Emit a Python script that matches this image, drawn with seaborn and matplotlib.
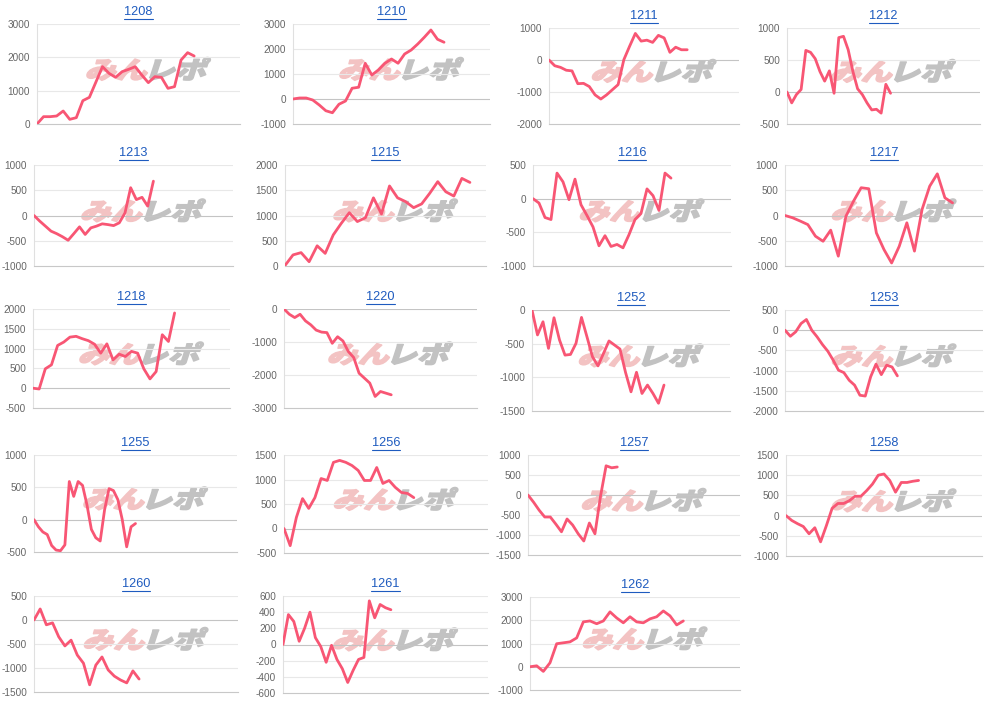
"""Small-multiple line charts, one panel per machine number."""

import matplotlib.pyplot as plt
import seaborn as sns
from matplotlib.font_manager import FontProperties
from matplotlib.lines import Line2D
from matplotlib.patches import PathPatch
from matplotlib.textpath import TextPath
from matplotlib.transforms import Affine2D

titles = ["1208", "1210", "1211", "1212",
          "1213", "1215", "1216", "1217",
          "1218", "1220", "1252", "1253",
          "1255", "1256", "1257", "1258",
          "1260", "1261", "1262"]

s1208 = [0, 220, 220, 240, 390, 140, 190, 700, 800, 1260, 1720, 1520, 1400,
         1570, 1640, 1720, 1470, 1240, 1420, 1400, 1070, 1120, 1920, 2140, 2040]
s1210 = [0, 40, 40, -40, -240, -470, -550, -210, -80, 430, 470, 1430, 960,
         1160, 1430, 1600, 1430, 1800, 1960, 2200, 2470, 2760, 2390, 2270]
s1211 = [0, -180, -230, -320, -340, -740, -730, -830, -1090, -1220, -1090, -930,
         -770, 10, 430, 830, 590, 620, 550, 770, 690, 240, 400, 320, 320]
s1212 = [0, -170, -40, 40, 650, 620, 520, 320, 170, 330, -20, 850, 870, 660,
         320, 50, -40, -170, -280, -270, -330, 120, -20]
s1213 = [0, -110, -210, -310, -360, -420, -490, -360, -225, -375, -245, -210,
         -165, -180, -200, -145, 50, 550, 315, 360, 185, 680]
s1215 = [10, 220, 265, 85, 400, 250, 615, 845, 1055, 880, 955, 1350, 1030,
         1585, 1350, 1275, 1155, 1230, 1440, 1670, 1470, 1385, 1735, 1655]
s1216 = [0, -65, -280, -310, 380, 250, -15, 290, -90, -250, -420, -700, -550,
         -710, -680, -730, -535, -310, -220, 145, 45, -175, 380, 305]
s1217 = [0, -45, -110, -180, -410, -510, -290, -805, -15, 285, 550, 530, -345,
         -675, -940, -610, -145, -705, 120, 580, 825, 350, 250]
s1218 = [0, -20, 490, 590, 1080, 1165, 1290, 1310, 1250, 1200, 1110, 885, 1120,
         715, 860, 800, 930, 885, 490, 235, 420, 1350, 1180, 1900]
s1220 = [0, -160, -260, -160, -360, -480, -640, -700, -715, -1040, -840, -970,
         -1290, -1470, -1945, -2095, -2245, -2650, -2500, -2550, -2600]
s1252 = [0, -370, -175, -570, -115, -445, -670, -660, -495, -110, -400, -695,
         -830, -645, -460, -520, -580, -925, -1215, -925, -1240, -1115, -1240,
         -1385, -1115]
s1253 = [0, -150, -40, 165, 265, 0, -165, -355, -520, -740, -990, -1050, -1240,
         -1360, -1610, -1630, -1155, -840, -1100, -865, -910, -1130]
s1255 = [0, -110, -190, -230, -400, -470, -480, -390, 590, 360, 590, 530, 230,
         -150, -280, -330, 155, 480, 450, 310, 0, -420, -110, -60]
s1256 = [0, -350, 225, 610, 410, 630, 1020, 980, 1350, 1390, 1350, 1285, 1185,
         980, 980, 1245, 920, 980, 840, 735, 715, 630]
s1257 = [0, -180, -380, -550, -550, -730, -920, -600, -750, -970, -1150, -700,
         -970, -30, 730, 680, 700]
s1258 = [0, -120, -200, -270, -450, -300, -650, -250, 180, 300, 300, 370, 480,
         480, 620, 780, 1000, 1030, 870, 580, 820, 820, 850, 870]
s1260 = [0, 230, -100, -60, -350, -540, -420, -730, -900, -1350, -940, -770,
         -1040, -1170, -1250, -1310, -1060, -1230]
s1261 = [0, 370, 285, 40, 200, 400, 85, -25, -220, -10, -185, -300, -470, -320,
         -185, -160, 540, 330, 495, 455, 430]
s1262 = [0, 40, -200, 170, 990, 1030, 1070, 1240, 1930, 1970, 1850, 1970, 2360,
         2100, 1890, 2150, 1930, 1890, 2060, 2150, 2400, 2190, 1800, 1970]

series = [s1208, s1210, s1211, s1212, s1213, s1215, s1216, s1217, s1218, s1220,
          s1252, s1253, s1255, s1256, s1257, s1258, s1260, s1261, s1262]

# y axis per panel: (min, max, step)
y_axes = [(0, 3000, 1000), (-1000, 3000, 1000), (-2000, 1000, 1000), (-500, 1000, 500),
          (-1000, 1000, 500), (0, 2000, 500), (-1000, 500, 500), (-1000, 1000, 500),
          (-500, 2000, 500), (-3000, 0, 1000), (-1500, 0, 500), (-2000, 500, 500),
          (-500, 1000, 500), (-500, 1500, 500), (-1500, 1000, 500), (-1000, 1500, 500),
          (-1500, 500, 500), (-600, 600, 200), (-1000, 3000, 1000)]

# number of x slots on each panel's category axis
x_spans = [31, 30, 33, 41, 35, 25, 33, 26, 32, 36, 36, 37, 46, 33, 38, 34, 33, 38, 31.5]

# plot-area boxes in pixels: left, right, top, bottom
boxes = [(37, 240, 24, 124), (293, 490, 24, 124), (549, 739, 28, 124), (787, 980, 28, 124),
         (34, 233, 165, 266), (285, 486, 165, 266), (533, 731, 165, 266), (785, 983, 165, 266),
         (33, 230, 309, 408), (284, 477, 309, 408), (532, 730, 310, 411), (785, 983, 310, 411),
         (34, 237, 455, 552), (284, 488, 455, 553), (528, 740, 455, 555), (786, 982, 455, 556),
         (34, 238, 596, 692), (283, 488, 596, 693), (530, 740, 597, 690)]

W, H = 1000, 705
LINE_COLOR = "#f85674"
TITLE_COLOR = "#1e5bbf"
GRID_COLOR = "#e8e8e8"
ZERO_COLOR = "#c4c4c4"

sns.set_theme(style="white")
plt.rcParams["font.family"] = ["Liberation Sans", "DejaVu Sans"]

fig = plt.figure(figsize=(W / 100, H / 100), dpi=100)

logo_font = FontProperties(family="Noto Sans CJK JP", weight="heavy")
path_pink = TextPath((0, 0), "みん", size=1, prop=logo_font)
path_gray = TextPath((0, 0), "レポ", size=1, prop=logo_font)
ext_pink = path_pink.get_extents()
ext_gray = path_gray.get_extents()


def add_logo(cx_px, cy_px):
    """Draw the faint 'みんレポ' watermark centred on a pixel position."""
    gap = 0.12
    total_w = ext_pink.width + gap + ext_gray.width
    h = max(ext_pink.y1, ext_gray.y1)
    x_in, y_in = cx_px / 100, (H - cy_px) / 100
    for path, ext, dx, color in [
        (path_pink, ext_pink, 0.0, "#f3c3c3"),
        (path_gray, ext_gray, ext_pink.width + gap, "#c2c2c2"),
    ]:
        tr = (Affine2D()
              .translate(-ext.x0 + dx - total_w / 2, -h / 2)
              .scale(0.31, 0.24)
              .skew_deg(18, 0)
              .translate(x_in, y_in)) + fig.dpi_scale_trans
        fig.add_artist(PathPatch(path, transform=tr, facecolor=color,
                                 edgecolor=color, linewidth=1.1,
                                 joinstyle="round", zorder=1))


title_texts = []
for title, values, (ymin, ymax, step), span, (l, r, t, b) in zip(
        titles, series, y_axes, x_spans, boxes):
    ax = fig.add_axes([l / W, 1 - b / H, (r - l) / W, (b - t) / H])
    ax.set_facecolor("none")
    ax.set_zorder(2)

    add_logo((l + r) / 2 + 10, (t + b) / 2 - 6)

    ticks = list(range(ymin, ymax + 1, step))
    ax.set_ylim(ymin, ymax)
    ax.set_xlim(0, span)
    ax.set_yticks(ticks)
    ax.set_yticklabels([str(v) for v in ticks])
    ax.set_xticks([])
    for v in ticks:
        if v == ymin:
            continue
        ax.axhline(v, color=ZERO_COLOR if v == 0 else GRID_COLOR, lw=0.8, zorder=0)

    sns.lineplot(x=list(range(len(values))), y=values, ax=ax, color=LINE_COLOR,
                 linewidth=2.0, estimator=None, zorder=3)

    ax.tick_params(axis="y", length=3, width=0.8, color=GRID_COLOR, pad=2,
                   labelsize=7.2, labelcolor="#666666")
    for side in ["top", "right"]:
        ax.spines[side].set_visible(False)
    ax.spines["left"].set_color("#e0e0e0")
    ax.spines["left"].set_linewidth(0.8)
    ax.spines["bottom"].set_color("#c8c8c8")
    ax.spines["bottom"].set_linewidth(0.8)

    txt = ax.annotate(title, xy=(0.5, 1), xycoords="axes fraction",
                      xytext=(0, 8.6), textcoords="offset points",
                      ha="center", va="center", fontsize=9.2, color=TITLE_COLOR)
    title_texts.append(txt)

# underline the titles like links
fig.canvas.draw()
renderer = fig.canvas.get_renderer()
inv = fig.transFigure.inverted()
for txt in title_texts:
    bb = txt.get_window_extent(renderer).transformed(inv)
    y = bb.y0 - 0.5 / H
    fig.add_artist(Line2D([bb.x0, bb.x1], [y, y], transform=fig.transFigure,
                          color=TITLE_COLOR, lw=0.8))

fig.savefig("out.png", dpi=100)
